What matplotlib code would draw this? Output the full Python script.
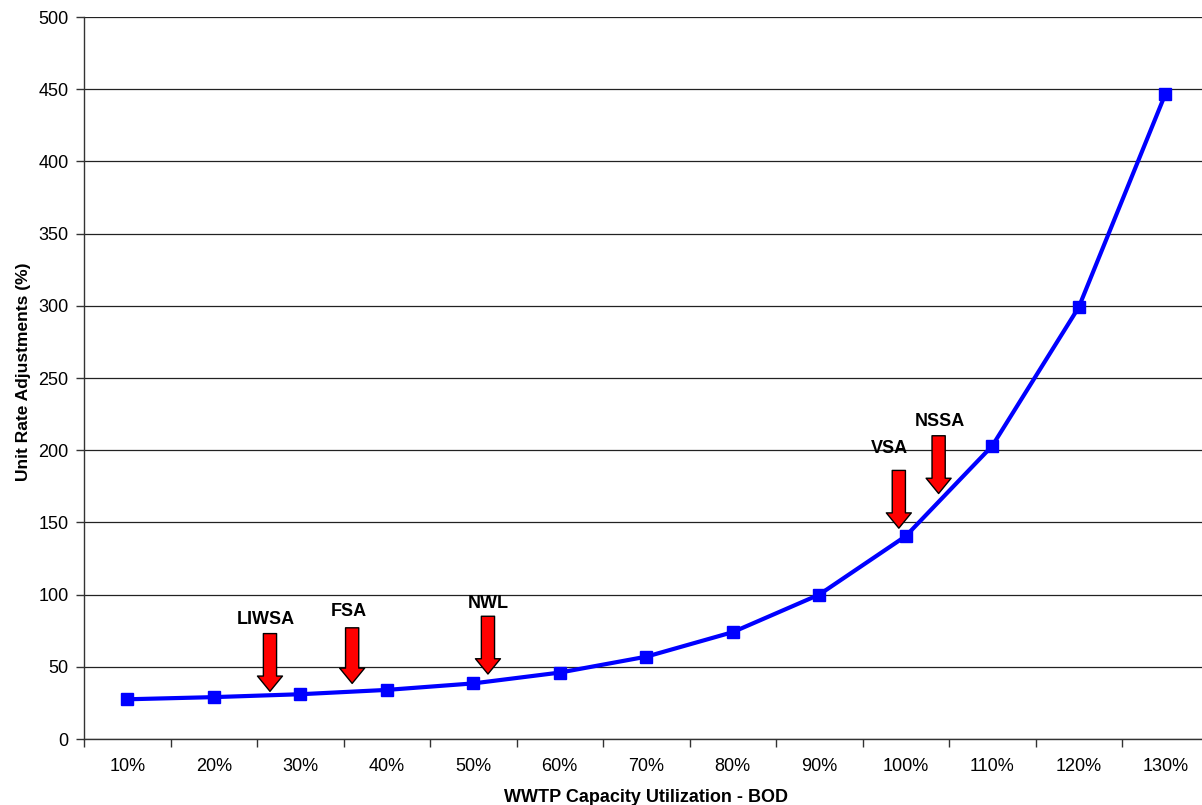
import matplotlib
matplotlib.use("Agg")
import matplotlib.pyplot as plt
import numpy as np

plt.rcParams['font.family'] = ['Liberation Sans', 'DejaVu Sans']

# capacity utilization categories and the unit rate adjustment at each
categories = ['10%', '20%', '30%', '40%', '50%', '60%', '70%',
              '80%', '90%', '100%', '110%', '120%', '130%']
adjustments = [27.5, 29, 31, 34, 38.5, 46, 57, 74, 100, 140.5, 203, 299, 446.5]

# service area markers: name, position (category index), arrow top, arrow tip
markers = ['LIWSA', 'FSA', 'NWL', 'VSA', 'NSSA']
marker_pos = [1.65, 2.60, 4.17, 8.92, 9.38]
marker_top = [73, 77, 85, 186, 210]
marker_tip = [33, 38.5, 45, 146, 170]
label_pos = [1.60, 2.56, 4.17, 8.81, 9.39]
label_y = [82.5, 88, 94, 201, 220]

fig = plt.figure(figsize=(12.02, 8.05), dpi=100)
ax = fig.add_axes([84 / 1202, 1 - 739 / 805, 1124.5 / 1202, 722 / 805])

x = np.arange(len(categories))
ax.plot(x, adjustments, color='#0000ff', lw=3, marker='s', ms=9,
        markeredgecolor='#0000ff', zorder=3, clip_on=False)

for name, xp, top, tip, lx, ly in zip(markers, marker_pos, marker_top, marker_tip,
                                      label_pos, label_y):
    ax.annotate('', xy=(xp, tip), xytext=(xp, top),
                arrowprops=dict(arrowstyle='simple,head_length=11,head_width=18,tail_width=9.5',
                                mutation_scale=1, fc='#ff0000', ec='black', lw=1,
                                shrinkA=0, shrinkB=0), zorder=4)
    ax.text(lx, ly, name, ha='center', va='center', fontsize=13,
            fontweight='bold', zorder=5)

ax.set_xlim(-0.5, len(categories) - 0.5)
ax.set_ylim(0, 500)
ax.set_yticks(np.arange(0, 501, 50))
ax.set_xticks(x)
ax.set_xticklabels(categories)
ax.set_xticks(np.arange(-0.5, len(categories), 1), minor=True)
ax.tick_params(axis='x', which='major', length=0, pad=14, labelsize=13)
ax.tick_params(axis='x', which='minor', length=6, width=1, direction='out',
               color='#333333')
ax.tick_params(axis='y', length=6, width=1, direction='out', labelsize=13, pad=5,
               color='#333333')

ax.grid(axis='y', color='#222222', lw=0.9)
ax.set_axisbelow(True)
for side in ['top', 'right']:
    ax.spines[side].set_visible(False)
for side in ['left', 'bottom']:
    ax.spines[side].set_linewidth(1)
    ax.spines[side].set_color('#333333')

fig.text(646 / 1202, 1 - 797 / 805, 'WWTP Capacity Utilization - BOD',
         fontsize=13, fontweight='bold', ha='center', va='center')
fig.text(24 / 1202, 1 - 372 / 805, 'Unit Rate Adjustments (%)',
         fontsize=12.5, fontweight='bold', ha='center', va='center', rotation=90)

fig.savefig('out.png', dpi=100)
